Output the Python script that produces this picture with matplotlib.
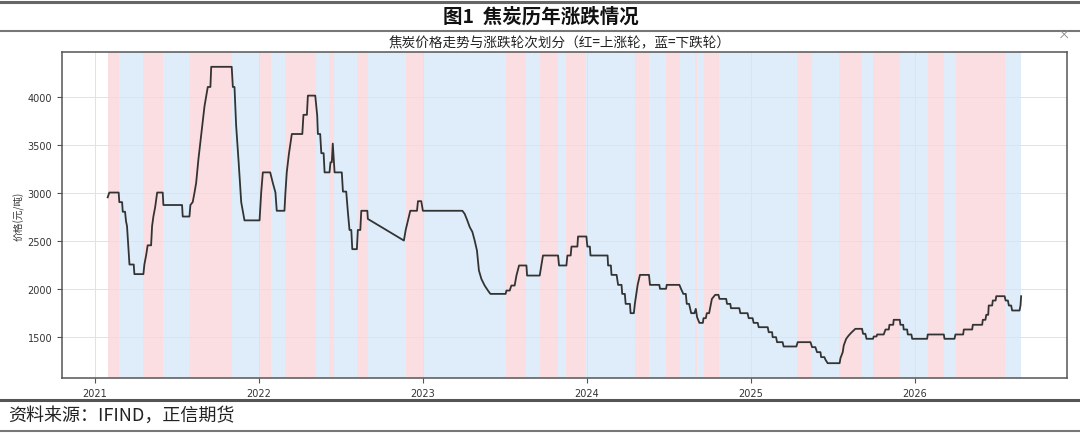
import matplotlib
matplotlib.use("Agg")
import matplotlib.pyplot as plt
import matplotlib.dates as mdates
from matplotlib.lines import Line2D
from datetime import datetime

# ---------------- data ----------------
# time stamps in decimal years, price in 元/吨
price_time = [
    2021.077, 2021.087, 2021.144, 2021.148, 2021.165, 2021.169, 2021.183, 2021.189, 2021.195, 2021.210,
    2021.236, 2021.240, 2021.295, 2021.301, 2021.312, 2021.321, 2021.342, 2021.348, 2021.356, 2021.367,
    2021.379, 2021.413, 2021.417, 2021.531, 2021.535, 2021.576, 2021.582, 2021.596, 2021.607, 2021.617,
    2021.631, 2021.648, 2021.668, 2021.688, 2021.704, 2021.709, 2021.834, 2021.841, 2021.851, 2021.861,
    2021.877, 2021.892, 2021.912, 2022.004, 2022.014, 2022.024, 2022.069, 2022.085, 2022.101, 2022.109,
    2022.156, 2022.162, 2022.170, 2022.183, 2022.201, 2022.265, 2022.272, 2022.293, 2022.299, 2022.344,
    2022.356, 2022.360, 2022.374, 2022.381, 2022.395, 2022.401, 2022.431, 2022.437, 2022.445, 2022.451,
    2022.462, 2022.506, 2022.513, 2022.533, 2022.543, 2022.553, 2022.564, 2022.570, 2022.598, 2022.604,
    2022.619, 2022.625, 2022.662, 2022.665, 2022.885, 2022.896, 2022.910, 2022.924, 2022.965, 2022.971,
    2022.991, 2023.001, 2023.242, 2023.256, 2023.272, 2023.287, 2023.303, 2023.317, 2023.331, 2023.343,
    2023.358, 2023.378, 2023.398, 2023.413, 2023.506, 2023.511, 2023.531, 2023.541, 2023.561, 2023.572,
    2023.588, 2023.633, 2023.637, 2023.714, 2023.724, 2023.734, 2023.826, 2023.832, 2023.877, 2023.883,
    2023.903, 2023.908, 2023.944, 2023.948, 2023.999, 2024.005, 2024.020, 2024.024, 2024.128, 2024.131,
    2024.148, 2024.152, 2024.183, 2024.192, 2024.213, 2024.217, 2024.233, 2024.238, 2024.264, 2024.268,
    2024.288, 2024.294, 2024.311, 2024.325, 2024.380, 2024.386, 2024.443, 2024.447, 2024.484, 2024.488,
    2024.565, 2024.575, 2024.589, 2024.604, 2024.610, 2024.624, 2024.637, 2024.657, 2024.665, 2024.673,
    2024.687, 2024.708, 2024.712, 2024.726, 2024.732, 2024.746, 2024.763, 2024.783, 2024.803, 2024.809,
    2024.850, 2024.855, 2024.875, 2024.879, 2024.930, 2024.936, 2024.980, 2024.987, 2025.011, 2025.017,
    2025.042, 2025.048, 2025.103, 2025.109, 2025.130, 2025.133, 2025.154, 2025.160, 2025.194, 2025.200,
    2025.278, 2025.286, 2025.364, 2025.374, 2025.394, 2025.404, 2025.425, 2025.429, 2025.449, 2025.455,
    2025.469, 2025.542, 2025.547, 2025.561, 2025.567, 2025.582, 2025.597, 2025.612, 2025.638, 2025.679,
    2025.685, 2025.699, 2025.706, 2025.746, 2025.750, 2025.767, 2025.771, 2025.811, 2025.822, 2025.842,
    2025.846, 2025.869, 2025.872, 2025.909, 2025.913, 2025.930, 2025.933, 2025.954, 2025.958, 2025.980,
    2025.985, 2026.076, 2026.080, 2026.178, 2026.182, 2026.243, 2026.249, 2026.296, 2026.300, 2026.351,
    2026.355, 2026.412, 2026.416, 2026.432, 2026.437, 2026.449, 2026.452, 2026.473, 2026.477, 2026.494,
    2026.498, 2026.549, 2026.555, 2026.569, 2026.575, 2026.589, 2026.595, 2026.640, 2026.646, 2026.650,
]
price_value = [
    2950, 3000, 3000, 2900, 2900, 2800, 2800, 2700, 2650, 2250,
    2250, 2150, 2150, 2250, 2350, 2450, 2450, 2650, 2750, 2850,
    3000, 3000, 2870, 2870, 2750, 2750, 2870, 2900, 3000, 3100,
    3350, 3600, 3900, 4100, 4100, 4310, 4310, 4100, 4100, 3700,
    3300, 2900, 2710, 2710, 3000, 3210, 3210, 3100, 3000, 2810,
    2810, 3000, 3210, 3400, 3610, 3610, 3810, 3810, 4010, 4010,
    3800, 3610, 3610, 3410, 3410, 3210, 3210, 3315, 3315, 3510,
    3210, 3210, 3010, 3010, 2800, 2610, 2610, 2410, 2410, 2610,
    2610, 2810, 2810, 2725, 2500, 2610, 2710, 2810, 2810, 2910,
    2910, 2810, 2810, 2778, 2710, 2640, 2590, 2500, 2396, 2188,
    2100, 2031, 1979, 1944, 1944, 1979, 1979, 2031, 2031, 2135,
    2240, 2240, 2135, 2135, 2240, 2344, 2344, 2240, 2240, 2344,
    2344, 2437, 2437, 2542, 2542, 2437, 2437, 2344, 2344, 2240,
    2240, 2142, 2142, 2038, 2038, 1944, 1944, 1840, 1840, 1743,
    1743, 1840, 2038, 2142, 2142, 2038, 2038, 1997, 1997, 2038,
    2038, 1997, 1944, 1944, 1840, 1840, 1743, 1743, 1788, 1700,
    1642, 1642, 1691, 1691, 1743, 1743, 1892, 1934, 1934, 1892,
    1892, 1840, 1840, 1795, 1795, 1743, 1743, 1691, 1691, 1642,
    1642, 1597, 1597, 1545, 1545, 1493, 1493, 1441, 1441, 1396,
    1396, 1441, 1441, 1389, 1389, 1337, 1337, 1285, 1285, 1260,
    1222, 1222, 1274, 1337, 1406, 1476, 1510, 1538, 1580, 1580,
    1528, 1528, 1476, 1476, 1500, 1500, 1521, 1521, 1573, 1573,
    1622, 1622, 1674, 1674, 1622, 1622, 1573, 1573, 1521, 1521,
    1476, 1476, 1521, 1521, 1476, 1476, 1521, 1521, 1573, 1573,
    1622, 1622, 1674, 1674, 1726, 1726, 1823, 1823, 1875, 1875,
    1920, 1920, 1875, 1875, 1823, 1823, 1771, 1771, 1823, 1920,
]

# round boundaries (decimal years) and round type for each interval
round_bounds = [
    2021.077, 2021.144, 2021.295, 2021.415, 2021.572, 2021.833,
    2022.005, 2022.075, 2022.158, 2022.347, 2022.425, 2022.458, 2022.597, 2022.665, 2022.896,
    2023.001, 2023.511, 2023.633, 2023.718, 2023.823, 2023.877, 2023.999,
    2024.292, 2024.382, 2024.486, 2024.568, 2024.658, 2024.675, 2024.713, 2024.809,
    2025.282, 2025.371, 2025.539, 2025.677, 2025.745, 2025.911,
    2026.081, 2026.178, 2026.250, 2026.549, 2026.651,
]
round_types = ["up" if i % 2 == 0 else "down" for i in range(len(round_bounds) - 1)]

title_text = "图1  焦炭历年涨跌情况"
subtitle_text = "焦炭价格走势与涨跌轮次划分（红=上涨轮，蓝=下跌轮）"
ylabel_text = "价格(元/吨)"
source_text = "资料来源：IFIND，正信期货"
y_ticks = [1500, 2000, 2500, 3000, 3500, 4000]


def to_date(y):
    yr = int(y)
    start = datetime(yr, 1, 1)
    nxt = datetime(yr + 1, 1, 1)
    return start + (nxt - start) * (y - yr)


CJK = ["Noto Sans CJK SC", "DejaVu Sans"]
W, H = 1080, 435

fig = plt.figure(figsize=(W / 100, H / 100), dpi=100)
ax = fig.add_axes([62 / W, 1 - 379 / H, (1067 - 62) / W, (379 - 53) / H])

colors = {"up": "#fbdee1", "down": "#deedf9"}
for i, t in enumerate(round_types):
    ax.axvspan(to_date(round_bounds[i]), to_date(round_bounds[i + 1]),
               color=colors[t], lw=0, zorder=0)

dates = [to_date(t) for t in price_time]
ax.plot(dates, price_value, color="#333333", lw=1.3, zorder=3)

ax.set_yticks(y_ticks)
ax.xaxis.set_major_locator(mdates.YearLocator())
ax.xaxis.set_major_formatter(mdates.DateFormatter("%Y"))
ax.grid(True, color="#e2e2e2", lw=0.7)
ax.set_axisbelow(True)
ax.tick_params(labelsize=7, length=3.5, width=0.8, color="#555555", labelcolor="#333333")
for s in ax.spines.values():
    s.set_color("#555555")
    s.set_linewidth(1.1)

ax.set_ylabel(ylabel_text, fontsize=7, family=CJK, color="#333333")
ax.yaxis.set_label_coords(-0.037, 0.5)


def hrule(y_px, lw, color):
    fig.add_artist(Line2D([0, 1], [1 - y_px / H] * 2, transform=fig.transFigure,
                          lw=lw, color=color))


hrule(3, 2.2, "#666666")
hrule(32, 1.5, "#777777")
hrule(401, 2.2, "#555555")
hrule(432, 1.5, "#777777")

fig.text(541 / W, 1 - 17 / H, title_text, ha="center", va="center", fontsize=14,
         fontweight="bold", family=CJK, color="#111111")
fig.text(560 / W, 1 - 43 / H, subtitle_text, ha="center", va="center", fontsize=9.8,
         family=CJK, color="#222222")
fig.text(1064 / W, 1 - 36 / H, "×", ha="center", va="center", fontsize=9,
         color="#888888", family=CJK)
fig.text(8 / W, 1 - 416 / H, source_text, ha="left", va="center", fontsize=13,
         family=CJK, color="#222222")

fig.savefig("out.png", dpi=100)
